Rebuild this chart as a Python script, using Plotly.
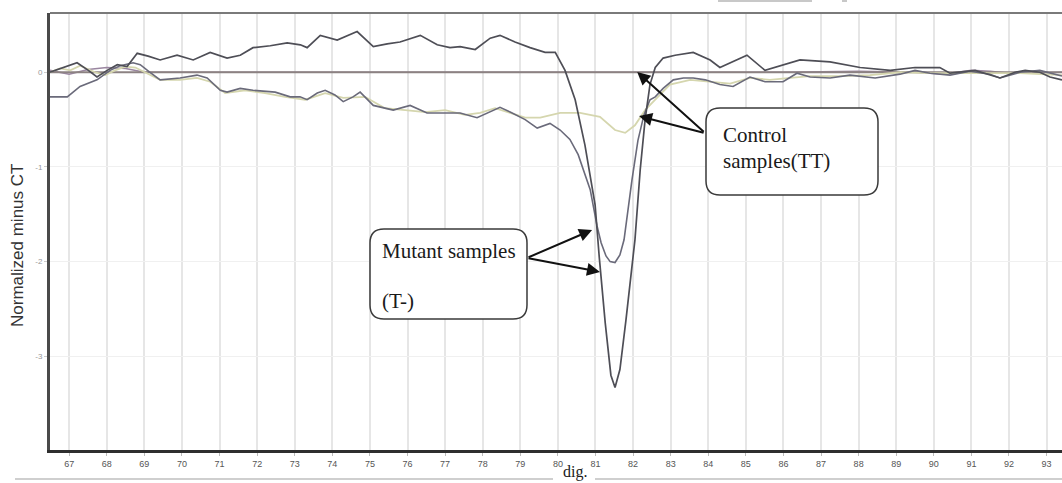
import plotly.graph_objects as go

# ---------------- data ----------------
mutA_temp = [66.49, 66.84, 67.21, 67.51, 67.74, 68.01, 68.28, 68.54, 68.81, 69.10, 69.42, 69.87,
             70.30, 70.75, 71.20, 71.55, 71.89, 72.35, 72.80, 73.15, 73.33, 73.68, 74.13, 74.66,
             75.09, 75.46, 75.80, 76.34, 76.79, 77.13, 77.40, 77.80, 78.20, 78.46, 78.86, 79.26,
             79.66, 79.93, 80.19, 80.46, 80.72, 80.99, 81.10, 81.26, 81.41, 81.52, 81.65, 81.81,
             81.94, 82.05, 82.19, 82.32, 82.45, 82.59, 82.80, 83.12, 83.60, 84.05, 84.31, 85.03,
             85.51, 86.44, 87.24, 88.04, 88.84, 89.50, 90.16, 90.43, 91.10, 91.49, 91.76, 92.16,
             92.43, 92.82, 93.09, 93.41]
mutA_val = [0.00, 0.05, 0.10, 0.02, -0.05, 0.02, 0.08, 0.06, 0.20, 0.17, 0.13, 0.18,
            0.13, 0.21, 0.15, 0.18, 0.26, 0.28, 0.31, 0.29, 0.26, 0.39, 0.34, 0.43,
            0.27, 0.30, 0.32, 0.39, 0.29, 0.26, 0.27, 0.24, 0.36, 0.39, 0.32, 0.26,
            0.21, 0.21, 0.02, -0.29, -0.77, -1.40, -1.95, -2.65, -3.20, -3.33, -3.14, -2.62,
            -2.19, -1.77, -1.03, -0.50, -0.13, 0.05, 0.15, 0.18, 0.21, 0.13, 0.05, 0.18,
            0.02, 0.13, 0.11, 0.05, 0.02, 0.05, 0.05, -0.01, 0.02, -0.03, -0.06, 0.00,
            0.02, 0.00, -0.05, -0.08]

mutB_temp = [66.49, 66.95, 67.29, 67.74, 68.09, 68.36, 68.70, 68.89, 69.15, 69.42, 69.95, 70.40,
             70.67, 71.02, 71.20, 71.55, 71.89, 72.48, 72.88, 73.14, 73.33, 73.60, 73.81, 74.07,
             74.29, 74.55, 74.74, 75.09, 75.62, 76.07, 76.52, 77.00, 77.40, 77.85, 78.28, 78.46,
             78.73, 79.13, 79.45, 79.79, 80.06, 80.32, 80.54, 80.86, 81.04, 81.15, 81.28, 81.39,
             81.52, 81.65, 81.76, 81.86, 81.97, 82.13, 82.29, 82.45, 82.59, 82.80, 83.07, 83.34,
             83.60, 83.92, 84.31, 84.66, 85.11, 85.51, 85.99, 86.36, 86.71, 87.24, 87.77, 88.44,
             89.10, 89.50, 89.90, 90.43, 90.96, 91.49, 91.76, 92.29, 92.82, 93.41]
mutB_val = [-0.26, -0.26, -0.15, -0.08, 0.02, 0.07, 0.10, 0.08, 0.00, -0.08, -0.06, -0.03,
            -0.06, -0.19, -0.21, -0.17, -0.19, -0.21, -0.26, -0.26, -0.29, -0.22, -0.19, -0.24,
            -0.31, -0.26, -0.21, -0.35, -0.40, -0.35, -0.43, -0.43, -0.43, -0.48, -0.40, -0.37,
            -0.42, -0.50, -0.59, -0.54, -0.61, -0.71, -0.87, -1.24, -1.62, -1.80, -1.94, -2.00,
            -2.01, -1.93, -1.77, -1.45, -1.14, -0.72, -0.45, -0.29, -0.26, -0.17, -0.08, -0.06,
            -0.06, -0.08, -0.13, -0.15, -0.05, -0.10, -0.10, -0.01, -0.05, -0.06, -0.03, -0.06,
            -0.02, 0.02, -0.01, -0.03, 0.01, -0.02, -0.06, 0.00, 0.02, -0.04]

ctrl1_temp = [66.49, 66.76, 67.03, 67.29, 67.69, 67.96, 68.22, 68.49, 68.76, 69.02, 69.42, 69.95,
              70.40, 70.75, 71.15, 71.68, 72.21, 72.74, 73.28, 73.81, 74.29, 74.87, 75.40, 75.94,
              76.47, 77.00, 77.53, 77.93, 78.33, 78.73, 79.13, 79.53, 80.06, 80.59, 81.12, 81.52,
              81.79, 82.05, 82.32, 82.59, 82.98, 83.52, 84.05, 84.58, 85.11, 85.64, 86.18, 86.71,
              87.51, 88.30, 89.10, 89.90, 90.70, 91.49, 92.29, 93.41]
ctrl1_val = [0.00, 0.04, 0.02, 0.07, 0.00, -0.03, 0.02, 0.06, 0.05, 0.00, -0.08, -0.08,
             -0.06, -0.10, -0.22, -0.19, -0.22, -0.26, -0.29, -0.22, -0.27, -0.26, -0.38, -0.40,
             -0.42, -0.40, -0.45, -0.43, -0.38, -0.43, -0.48, -0.48, -0.43, -0.43, -0.47, -0.61,
             -0.64, -0.56, -0.40, -0.29, -0.13, -0.08, -0.10, -0.12, -0.06, -0.08, -0.06, -0.04,
             -0.04, -0.03, 0.00, -0.01, -0.01, -0.01, -0.01, -0.03]

ctrl2_temp = [66.49, 67.0, 67.5, 68.0, 68.5, 69.0, 70.0, 72.0, 75.0, 78.0, 81.0, 84.0,
              86.0, 88.0, 89.5, 90.3, 91.0, 91.5, 92.0, 93.41]
ctrl2_val = [0.02, -0.02, 0.03, 0.05, 0.04, 0.00, 0.00, 0.00, 0.00, 0.00, 0.00, 0.00,
             0.00, 0.01, 0.00, -0.02, 0.02, 0.01, -0.01, 0.00]

x_ticks = list(range(67, 94))
y_ticks = [0, -1, -2, -3]
y_tick_labels = ["0", "-1", "-2", "-3"]

X_RANGE = [66.49, 93.41]
Y_RANGE = [-3.99, 0.626]

# ---------------- figure ----------------
W, H = 1062, 483
ML, MR, MT, MB = 50, 0, 13, 33
PW, PH = W - ML - MR, H - MT - MB


def px2paper(px, py):
    return (px - ML) / PW, (H - MB - py) / PH


def rounded_box(x0, y0, x1, y1, r):
    def P(px, py):
        a, b = px2paper(px, py)
        return f"{a:.5f},{b:.5f}"
    path = (f"M {P(x0 + r, y0)} L {P(x1 - r, y0)} Q {P(x1, y0)} {P(x1, y0 + r)} "
            f"L {P(x1, y1 - r)} Q {P(x1, y1)} {P(x1 - r, y1)} "
            f"L {P(x0 + r, y1)} Q {P(x0, y1)} {P(x0, y1 - r)} "
            f"L {P(x0, y0 + r)} Q {P(x0, y0)} {P(x0 + r, y0)} Z")
    return dict(type="path", xref="paper", yref="paper", path=path,
                line=dict(color="#3a3a3a", width=1.5), fillcolor="white", layer="above")


fig = go.Figure()
fig.add_trace(go.Scatter(x=ctrl2_temp, y=ctrl2_val, mode="lines",
                         line=dict(color="#9a86a0", width=1.6), hoverinfo="skip"))
fig.add_trace(go.Scatter(x=X_RANGE, y=[0, 0], mode="lines",
                         line=dict(color="#8c8282", width=2), hoverinfo="skip"))
fig.add_trace(go.Scatter(x=ctrl1_temp, y=ctrl1_val, mode="lines",
                         line=dict(color="#d5d6ae", width=1.8), hoverinfo="skip"))
fig.add_trace(go.Scatter(x=mutB_temp, y=mutB_val, mode="lines",
                         line=dict(color="#6a6a7a", width=1.6), hoverinfo="skip"))
fig.add_trace(go.Scatter(x=mutA_temp, y=mutA_val, mode="lines",
                         line=dict(color="#4e4e56", width=1.7), hoverinfo="skip"))

shapes = []
# top border
a0, b0 = px2paper(ML, 13)
shapes.append(dict(type="line", xref="paper", yref="paper", x0=0, x1=1.02, y0=b0, y1=b0,
                   line=dict(color="#7a7a7a", width=2)))
# cropped strip at very top
for xa, xb in [(718, 812), (842, 847)]:
    p0, q0 = px2paper(xa, 1)
    p1, _ = px2paper(xb, 1)
    shapes.append(dict(type="line", xref="paper", yref="paper", x0=p0, x1=p1, y0=q0, y1=q0,
                       line=dict(color="#c8c8c8", width=2)))
# bottom rule under axis labels
for xa, xb in [(15, 553), (595, 1062)]:
    p0, q0 = px2paper(xa, 479)
    p1, _ = px2paper(xb, 479)
    shapes.append(dict(type="line", xref="paper", yref="paper", x0=p0, x1=p1, y0=q0, y1=q0,
                       line=dict(color="#cfcfcf", width=2)))
# callout boxes
shapes.append(rounded_box(370, 229, 527, 319, 14))
shapes.append(rounded_box(706, 108, 878, 195, 14))

annotations = []
serif = "Liberation Serif, Times New Roman, serif"


def text_at(px, py, txt, size=21, anchor="left", family=serif, color="#1a1a1a"):
    a, b = px2paper(px, py)
    annotations.append(dict(xref="paper", yref="paper", x=a, y=b, text=txt, showarrow=False,
                            xanchor=anchor, yanchor="middle",
                            font=dict(family=family, size=size, color=color)))


text_at(380, 251, "Mutant samples")
text_at(380, 301, "(T-)")
text_at(721, 135, "Control")
text_at(721, 161, "samples(TT)")
text_at(575, 472, "dig.", size=16, anchor="center")


def arrow(tx, ty, ax, ay):
    annotations.append(dict(x=tx, y=ty, xref="x", yref="y", ax=ax, ay=ay, text="",
                            showarrow=True, arrowhead=2, arrowsize=1.3, arrowwidth=2,
                            arrowcolor="#111111"))


arrow(80.91, -1.665, -65, 28)
arrow(81.12, -2.109, -73, -14)
arrow(82.11, 0.003, 68, 61)
arrow(82.16, -0.463, 66, 17)

# y axis title
a, b = px2paper(18, 246)
annotations.append(dict(xref="paper", yref="paper", x=a, y=b, text="Normalized minus CT",
                        textangle=-90, showarrow=False, xanchor="center", yanchor="middle",
                        font=dict(family="Liberation Sans, Arial, sans-serif", size=17,
                                  color="#333333")))

fig.update_layout(
    width=W, height=H,
    margin=dict(l=ML, r=MR, t=MT, b=MB),
    paper_bgcolor="white", plot_bgcolor="white",
    showlegend=False,
    shapes=shapes, annotations=annotations,
    xaxis=dict(range=X_RANGE, tickmode="array", tickvals=x_ticks,
               ticktext=[str(v) for v in x_ticks],
               showgrid=True, gridcolor="#e6e6e6", gridwidth=2,
               showline=True, linecolor="#2e2e2e", linewidth=3,
               ticks="outside", ticklen=3, tickcolor="#bbbbbb",
               tickfont=dict(family="Liberation Sans, Arial", size=9, color="#555555"),
               zeroline=False, fixedrange=True),
    yaxis=dict(range=Y_RANGE, tickmode="array", tickvals=y_ticks, ticktext=y_tick_labels,
               showgrid=True, gridcolor="#f0f0f0", gridwidth=1,
               showline=True, linecolor="#4a4a4a", linewidth=3,
               ticks="outside", ticklen=3, tickcolor="#cccccc",
               tickfont=dict(family="Liberation Sans, Arial", size=8, color="#9a9a9a"),
               zeroline=False, fixedrange=True),
)

fig.write_html("out.html", config={"displayModeBar": False},
               post_script="document.body.style.margin='0';document.body.style.overflow='hidden';")
